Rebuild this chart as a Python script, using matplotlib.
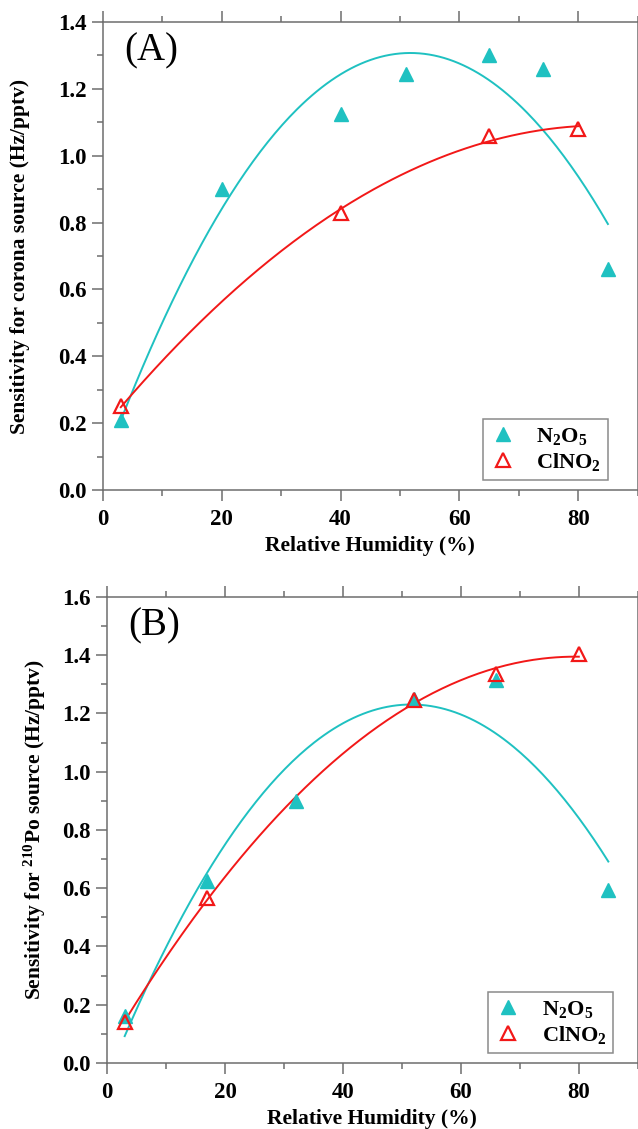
import matplotlib
matplotlib.use('Agg')
import matplotlib.pyplot as plt
import numpy as np
from matplotlib.ticker import MultipleLocator

plt.rcParams['font.family'] = ['Liberation Serif', 'DejaVu Serif']
plt.rcParams['font.weight'] = 'bold'
plt.rcParams['mathtext.fontset'] = 'custom'
plt.rcParams['mathtext.rm'] = 'Liberation Serif:bold'
plt.rcParams['mathtext.default'] = 'rm'

# panel A: corona source
rh_a_n2o5 = [3, 20, 40, 51, 65, 74, 85]
sens_a_n2o5 = [0.21, 0.90, 1.125, 1.245, 1.30, 1.26, 0.66]
rh_a_clno2 = [3, 40, 65, 80]
sens_a_clno2 = [0.25, 0.83, 1.06, 1.08]

# panel B: 210Po source
rh_b_n2o5 = [3, 17, 32, 52, 66, 85]
sens_b_n2o5 = [0.16, 0.625, 0.90, 1.25, 1.315, 0.595]
rh_b_clno2 = [3, 17, 52, 66, 80]
sens_b_clno2 = [0.14, 0.565, 1.245, 1.335, 1.405]

cyan = '#1fc1c1'
red = '#f21818'
spine_col = '#6e6e6e'


def panel(ax, xa, ya, xc, yc, ymax, letter, ylabel, ypad, leg_x):
    # quadratic fits through the points
    for x, y, c in [(xa, ya, cyan), (xc, yc, red)]:
        p = np.polyfit(x, y, 2)
        xs = np.linspace(min(x), max(x), 200)
        ax.plot(xs, np.polyval(p, xs), color=c, lw=1.4, zorder=2)
    ax.plot(xa, ya, '^', color=cyan, ms=10.5, mec=cyan, ls='none',
            label='N$_2$O$_5$', zorder=3)
    ax.plot(xc, yc, '^', mfc='none', mec=red, mew=1.6, ms=10.5, ls='none',
            label='ClNO$_2$', zorder=4)

    ax.set_xlim(0, 90)
    ax.set_ylim(0, ymax)
    ax.xaxis.set_major_locator(MultipleLocator(20))
    ax.xaxis.set_minor_locator(MultipleLocator(10))
    ax.yaxis.set_major_locator(MultipleLocator(0.2))
    ax.yaxis.set_minor_locator(MultipleLocator(0.1))
    ax.yaxis.set_major_formatter(matplotlib.ticker.FormatStrFormatter('%.1f'))
    ax.tick_params(which='both', direction='out', top=True, right=False,
                   color=spine_col, labelsize=16.5, width=1.1)
    ax.tick_params(which='major', length=8, pad=4)
    ax.tick_params(axis='x', which='major', pad=6)
    ax.tick_params(which='minor', length=4.5)
    for s in ax.spines.values():
        s.set_color(spine_col)
        s.set_linewidth(1.1)
    for lab in ax.get_xticklabels() + ax.get_yticklabels():
        lab.set_fontweight('bold')

    ax.set_xlabel('Relative Humidity (%)', fontsize=15.5, fontweight='bold', labelpad=4)
    ax.set_ylabel(ylabel, fontsize=15.5, fontweight='bold', labelpad=ypad)
    ax.text(0.04, 0.978, letter, transform=ax.transAxes, fontsize=28,
            fontweight='normal', va='top', ha='left')

    leg = ax.legend(loc='lower right', bbox_to_anchor=(leg_x, 0.012), fancybox=False,
                    edgecolor=spine_col, fontsize=16, handletextpad=0.9,
                    borderpad=0.3, labelspacing=0.2, handlelength=1.2,
                    borderaxespad=0.2)
    leg.get_frame().set_linewidth(1.1)


fig = plt.figure(figsize=(6.38, 11.29), dpi=100)
ax1 = fig.add_axes([0.1614, 0.566, 0.838, 0.4145])
ax2 = fig.add_axes([0.1677, 0.0585, 0.832, 0.4127])

panel(ax1, rh_a_n2o5, sens_a_n2o5, rh_a_clno2, sens_a_clno2, 1.4, '(A)',
      'Sensitivity for corona source (Hz/pptv)', 20, 0.952)
panel(ax2, rh_b_n2o5, sens_b_n2o5, rh_b_clno2, sens_b_clno2, 1.6, '(B)',
      'Sensitivity for $^{210}$Po source (Hz/pptv)', 10, 0.962)

fig.savefig('out.png', dpi=100)
